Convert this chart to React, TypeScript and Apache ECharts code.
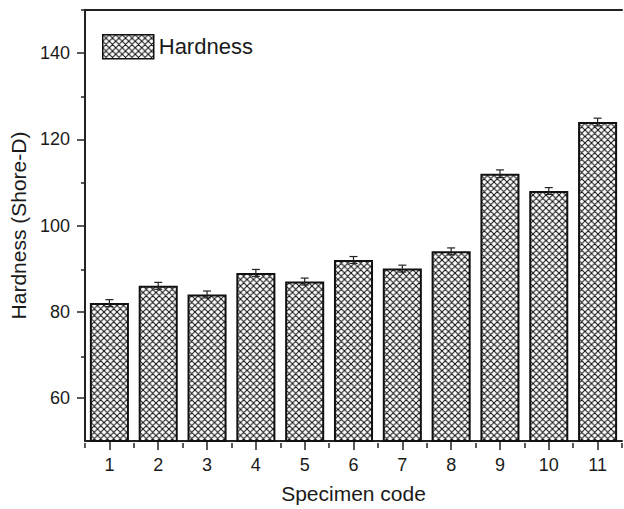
import React, { useEffect, useRef } from "react";
import * as echarts from "echarts";

const categories = ["1", "2", "3", "4", "5", "6", "7", "8", "9", "10", "11"];
const hardness = [82, 86, 84, 89, 87, 92, 90, 94, 112, 108, 124];
const errors = [0.8, 0.8, 0.8, 0.8, 0.8, 0.8, 0.8, 0.8, 0.9, 0.8, 0.9];
const yMajorTicks = [60, 80, 100, 120, 140];
const yMinorTicks = [70, 90, 110, 130, 150];
const yMin = 50;
const yMax = 150;

const FONT = "'Liberation Sans', Arial, sans-serif";
const INK = "#1a1a1a";

const TILE = 6.5;
const patternSvg =
  "<svg xmlns='http://www.w3.org/2000/svg' width='" + TILE + "' height='" + TILE + "' viewBox='0 0 6 6'>" +
  "<path d='M0,0L6,6M6,0L0,6M-1,5L1,7M5,-1L7,1M-1,1L1,-1M5,7L7,5' stroke='#111' stroke-width='1.0' fill='none'/>" +
  "</svg>";
const patternUrl = "data:image/svg+xml;charset=utf-8," + encodeURIComponent(patternSvg);

export default function App() {
  const ref = useRef<HTMLDivElement>(null);

  useEffect(() => {
    if (!ref.current) return;
    const chart = echarts.init(ref.current, null, { renderer: "svg" });

    const hatch: any = {
      image: patternUrl,
      repeat: "repeat",
      imageWidth: TILE,
      imageHeight: TILE,
    };

    const gridPos = { left: 85, right: 2, top: 10, bottom: 66, containLabel: false };

    const errData = categories.map((c, i) => [i, hardness[i] - errors[i], hardness[i] + errors[i]]);

    chart.setOption({
      animation: false,
      backgroundColor: "#ffffff",
      textStyle: { fontFamily: FONT, color: INK },
      grid: [gridPos, gridPos],
      legend: {
        show: true,
        data: ["Hardness"],
        left: 102,
        top: 34,
        padding: 0,
        icon: "rect",
        itemWidth: 51,
        itemHeight: 24,
        itemGap: 8,
        textStyle: { fontSize: 22, color: INK, fontFamily: FONT },
        itemStyle: { borderColor: "#111", borderWidth: 1.5 },
      },
      xAxis: [
        {
          type: "category",
          gridIndex: 0,
          position: "bottom",
          data: categories,
          boundaryGap: true,
          name: "Specimen code",
          nameLocation: "middle",
          nameGap: 42,
          nameTextStyle: { fontSize: 21, color: INK, fontFamily: FONT },
          axisLine: { show: true, lineStyle: { color: "#222", width: 2 } },
          axisTick: { show: true, alignWithLabel: true, length: 9, lineStyle: { color: "#222", width: 1.5 } },
          axisLabel: { fontSize: 18, color: INK, margin: 15, fontFamily: FONT },
          splitLine: { show: false },
        },
        {
          type: "category",
          gridIndex: 0,
          position: "top",
          data: categories,
          boundaryGap: true,
          axisLine: { show: true, lineStyle: { color: "#222", width: 2 } },
          axisTick: { show: false },
          axisLabel: { show: false },
          splitLine: { show: false },
        },
        {
          type: "category",
          gridIndex: 1,
          position: "bottom",
          data: categories,
          boundaryGap: true,
          axisLine: { show: false },
          axisTick: { show: true, length: 5, lineStyle: { color: "#222", width: 1.5 } },
          axisLabel: { show: false },
          splitLine: { show: false },
        },
      ],
      yAxis: [
        {
          type: "value",
          gridIndex: 0,
          min: yMin,
          max: yMax,
          interval: 10,
          name: "Hardness (Shore-D)",
          nameLocation: "middle",
          nameGap: 56,
          nameTextStyle: { fontSize: 21, color: INK, fontFamily: FONT },
          axisLine: { show: true, lineStyle: { color: "#222", width: 2 } },
          axisTick: { show: true, length: 8, customValues: yMajorTicks, lineStyle: { color: "#222", width: 1.5 } },
          axisLabel: { fontSize: 18, color: INK, margin: 15, customValues: yMajorTicks, fontFamily: FONT },
          splitLine: { show: false },
        },
        {
          type: "value",
          gridIndex: 1,
          min: yMin,
          max: yMax,
          interval: 10,
          axisLine: { show: false },
          axisTick: { show: true, length: 4, customValues: yMinorTicks, lineStyle: { color: "#222", width: 1.5 } },
          axisLabel: { show: false },
          splitLine: { show: false },
        },
      ],
      series: [
        {
          name: "Hardness",
          type: "bar",
          xAxisIndex: 0,
          yAxisIndex: 0,
          data: hardness,
          barWidth: "80%",
          itemStyle: { color: hatch, borderColor: "#111", borderWidth: 2 },
          emphasis: { disabled: true },
          z: 2,
        },
        {
          name: "error",
          type: "custom",
          xAxisIndex: 0,
          yAxisIndex: 0,
          data: errData,
          z: 3,
          silent: true,
          renderItem: (params: any, api: any) => {
            const idx = api.value(0);
            const lo = api.coord([idx, api.value(1)]);
            const hi = api.coord([idx, api.value(2)]);
            const hw = 4;
            const style = { stroke: "#222", lineWidth: 1.2 };
            return {
              type: "group",
              children: [
                { type: "line", shape: { x1: lo[0], y1: lo[1], x2: hi[0], y2: hi[1] }, style },
                { type: "line", shape: { x1: hi[0] - hw, y1: hi[1], x2: hi[0] + hw, y2: hi[1] }, style },
                { type: "line", shape: { x1: lo[0] - hw, y1: lo[1], x2: lo[0] + hw, y2: lo[1] }, style },
              ],
            };
          },
        },
      ],
    });

    return () => {
      chart.dispose();
    };
  }, []);

  return <div ref={ref} style={{ position: "fixed", left: 0, top: 0, width: 624, height: 509 }} />;
}
